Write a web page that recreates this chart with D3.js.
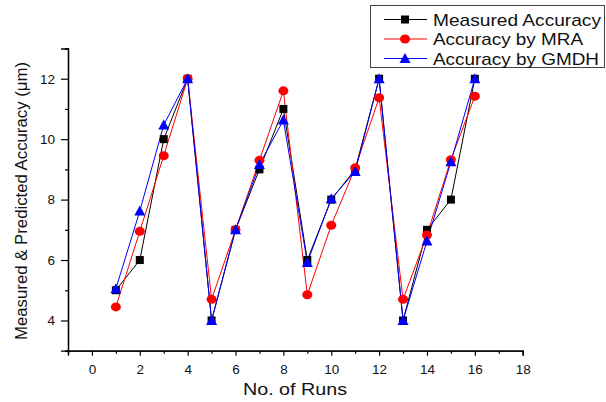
<!DOCTYPE html>
<html>
<head>
<meta charset="utf-8">
<script src="https://cdn.jsdelivr.net/npm/d3@7"></script>
<style>
  body { margin: 0; background: #fff; }
  svg { font-family: "Liberation Sans", Arial, sans-serif; }
</style>
</head>
<body>
<div id="chart"></div>
<script>
var runs = [1, 2, 3, 4, 5, 6, 7, 8, 9, 10, 11, 12, 13, 14, 15, 16];
var measured = [5, 6, 10, 12, 4, 7, 9, 11, 6, 8, 9, 12, 4, 7, 8, 12];
var mra = [4.45, 6.95, 9.45, 12, 4.7, 7.0, 9.3, 11.6, 4.85, 7.15, 9.05, 11.37, 4.7, 6.83, 9.32, 11.42];
var gmdh = [5.05, 7.62, 10.47, 12, 4.0, 7.0, 9.16, 10.63, 5.92, 8.03, 8.93, 12, 4.0, 6.63, 9.25, 12];
var x_ticks = [0, 2, 4, 6, 8, 10, 12, 14, 16, 18];
var y_ticks = [4, 6, 8, 10, 12];
var series_names = ['Measured Accuracy', 'Accuracy by MRA', 'Accuracy by GMDH'];

var chart_width = 606;
var chart_height = 402;

var svg = d3.select('#chart')
    .append('svg')
    .attr('width', chart_width)
    .attr('height', chart_height);

// Escalas
var x_scale = d3.scaleLinear()
    .domain([-1, 18])
    .range([68, 522.7]);

var y_scale = d3.scaleLinear()
    .domain([3, 13])
    .range([350.7, 48.5]);

// Eixos
var x_axis = d3.axisBottom(x_scale)
    .tickValues(x_ticks)
    .tickSize(5)
    .tickFormat(d3.format('d'));
var x_minor = d3.axisBottom(x_scale)
    .tickValues(d3.range(-1, 18, 2))
    .tickSize(3)
    .tickFormat('');

var y_axis = d3.axisLeft(y_scale)
    .tickValues(y_ticks)
    .tickSize(7)
    .tickFormat(d3.format('d'));
var y_minor = d3.axisLeft(y_scale)
    .tickValues(d3.range(3, 14, 2))
    .tickSize(3)
    .tickFormat('');

function style_axis(g) {
    g.select('.domain').attr('stroke', '#000').attr('stroke-width', 1.3);
    g.selectAll('.tick line').attr('stroke', '#000').attr('stroke-width', 1.2);
    g.selectAll('.tick text').attr('font-size', 13.5).attr('fill', '#111');
}

svg.append('g')
    .attr('transform', 'translate(0,' + y_scale(3) + ')')
    .call(x_minor).call(style_axis);
svg.append('g')
    .attr('transform', 'translate(0,' + y_scale(3) + ')')
    .call(x_axis).call(style_axis)
    .selectAll('.tick text').attr('dy', '1.1em');

svg.append('g')
    .attr('transform', 'translate(' + x_scale(-1) + ',0)')
    .call(y_minor).call(style_axis);
svg.append('g')
    .attr('transform', 'translate(' + x_scale(-1) + ',0)')
    .call(y_axis).call(style_axis)
    .selectAll('.tick text').attr('x', -13);

// Rotulos dos eixos
svg.append('text')
    .attr('x', 295)
    .attr('y', 395)
    .attr('text-anchor', 'middle')
    .attr('font-size', 16.5)
    .attr('textLength', 104)
    .attr('lengthAdjust', 'spacingAndGlyphs')
    .attr('fill', '#111')
    .text('No. of Runs');

svg.append('text')
    .attr('transform', 'translate(27,' + 201 + ') rotate(-90)')
    .attr('text-anchor', 'middle')
    .attr('font-size', 16.5)
    .attr('textLength', 278)
    .attr('lengthAdjust', 'spacingAndGlyphs')
    .attr('fill', '#111')
    .text('Measured & Predicted Accuracy (\u03bcm)');

// Linhas
var series = [
    {name: series_names[0], values: measured, color: '#000', shape: 'square', len: 168},
    {name: series_names[1], values: mra, color: '#ff0000', shape: 'circle', len: 150},
    {name: series_names[2], values: gmdh, color: '#0000ff', shape: 'triangle', len: 166}
];

var line = d3.line()
    .x(function (d) { return x_scale(d[0]); })
    .y(function (d) { return y_scale(d[1]); });

function draw_marker(g, shape, color) {
    if (shape === 'square') {
        g.append('rect').attr('x', -4).attr('y', -4).attr('width', 8).attr('height', 8).attr('fill', color);
    } else if (shape === 'circle') {
        g.append('ellipse').attr('rx', 5).attr('ry', 4.5).attr('fill', color);
    } else {
        g.append('path').attr('d', 'M0,-5.5L5.5,4.5L-5.5,4.5Z').attr('fill', color);
    }
}

series.forEach(function (s) {
    var pts = runs.map(function (r, i) { return [r, s.values[i]]; });
    svg.append('path')
        .attr('d', line(pts))
        .attr('fill', 'none')
        .attr('stroke', s.color)
        .attr('stroke-width', 1);
});

series.forEach(function (s) {
    var pts = runs.map(function (r, i) { return [r, s.values[i]]; });
    svg.selectAll(null)
        .data(pts)
        .enter()
        .append('g')
        .attr('transform', function (d) {
            return 'translate(' + x_scale(d[0]) + ',' + y_scale(d[1]) + ')';
        })
        .each(function () { draw_marker(d3.select(this), s.shape, s.color); });
});

// Legenda
var legend = svg.append('g');
legend.append('rect')
    .attr('x', 370.5).attr('y', 5.5)
    .attr('width', 234).attr('height', 62)
    .attr('fill', '#fff')
    .attr('stroke', '#444')
    .attr('stroke-width', 1);

series.forEach(function (s, i) {
    var y = 19.5 + i * 19.5;
    legend.append('line')
        .attr('x1', 384).attr('x2', 427)
        .attr('y1', y).attr('y2', y)
        .attr('stroke', s.color).attr('stroke-width', 1);
    var m = legend.append('g').attr('transform', 'translate(405,' + y + ')');
    draw_marker(m, s.shape, s.color);
    legend.append('text')
        .attr('x', 433).attr('y', y + 6)
        .attr('font-size', 17)
        .attr('textLength', s.len)
        .attr('lengthAdjust', 'spacingAndGlyphs')
        .attr('fill', '#111')
        .text(s.name);
});
</script>
</body>
</html>
